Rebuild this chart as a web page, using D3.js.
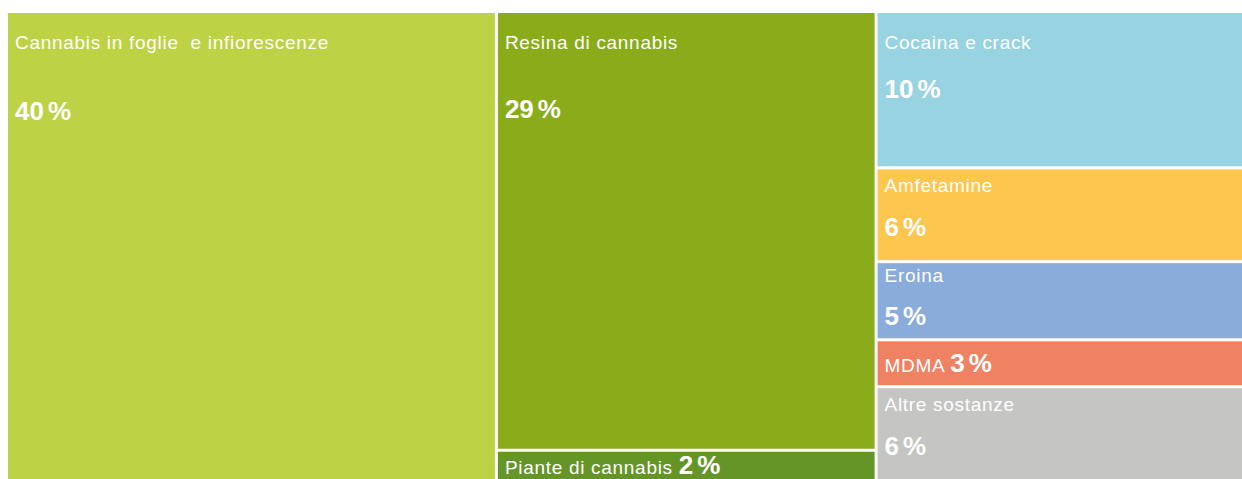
<!DOCTYPE html>
<html>
<head>
<meta charset="utf-8">
<script src="https://cdn.jsdelivr.net/npm/d3@7"></script>
<style>
  html, body { margin: 0; padding: 0; background: #ffffff; }
  svg { display: block; }
  text { font-family: "Liberation Sans", Arial, sans-serif; fill: #ffffff; white-space: pre; }
</style>
</head>
<body>
<svg id="chart" width="1242" height="479"></svg>
<script>
// Seizure shares by substance (percent)
const categories = [
  "Cannabis in foglie  e infiorescenze",
  "Resina di cannabis",
  "Piante di cannabis",
  "Cocaina e crack",
  "Amfetamine",
  "Eroina",
  "MDMA",
  "Altre sostanze"
];
const shares = [40, 29, 2, 10, 6, 5, 3, 6];
// column each substance is stacked in
const columnOf = [0, 1, 1, 2, 2, 2, 2, 2];
const palette = ["#BED245", "#8AAB1A", "#649526", "#98D3E2", "#FDC64F", "#8AACDB", "#EF8263", "#C5C5C3"];

const W = 1242, H = 479;
const margin = { left: 8, top: 13, right: 0, bottom: 0 };

// Build a two-level hierarchy: columns -> substances
const columnIds = Array.from(new Set(columnOf));
const tree = {
  name: "root",
  children: columnIds.map(c => ({
    name: "col" + c,
    children: categories
      .map((name, i) => ({ name, value: shares[i], color: palette[i], idx: i }))
      .filter(d => columnOf[d.idx] === c)
  }))
};

const root = d3.hierarchy(tree).sum(d => d.value || 0);

d3.treemap()
  .tile(d3.treemapSliceDice)
  .size([W - margin.left - margin.right, H - margin.top - margin.bottom])
  .paddingInner(3)
  (root);

const svg = d3.select("#chart");
const g = svg.append("g").attr("transform", `translate(${margin.left},${margin.top})`);

const cells = g.selectAll("g.cell")
  .data(root.leaves())
  .join("g")
  .attr("class", "cell")
  .attr("transform", d => `translate(${d.x0},${d.y0})`);

cells.append("rect")
  .attr("width", d => d.x1 - d.x0)
  .attr("height", d => d.y1 - d.y0)
  .attr("fill", d => d.data.color);

const nameSize = 19, valueSize = 26;

function addValue(text, value) {
  text.append("tspan")
    .style("font-size", valueSize + "px")
    .style("font-weight", "bold")
    .style("letter-spacing", "0px")
    .text(value);
  text.append("tspan")
    .attr("dx", 4)
    .style("font-size", valueSize + "px")
    .style("font-weight", "bold")
    .style("letter-spacing", "0px")
    .text("%");
}

cells.each(function(d) {
  const cell = d3.select(this);
  const h = d.y1 - d.y0;
  const pad = 7;

  if (h < 54) {
    // short cell: name and value share one line
    const t = cell.append("text")
      .attr("x", pad)
      .attr("y", h / 2 + 9)
      .style("font-size", nameSize + "px")
      .style("letter-spacing", "0.7px");
    t.append("tspan").text(d.data.name + " ");
    addValue(t, d.data.value);
    return;
  }

  const nameY = Math.max(17, Math.min(36, h * 0.25));
  const valueY = Math.min(nameY + 38 + h * 0.07, h - 5);

  cell.append("text")
    .attr("x", pad)
    .attr("y", nameY)
    .style("font-size", nameSize + "px")
    .style("letter-spacing", "0.7px")
    .text(d.data.name);

  const v = cell.append("text")
    .attr("x", pad)
    .attr("y", valueY);
  addValue(v, d.data.value);
});
</script>
</body>
</html>
